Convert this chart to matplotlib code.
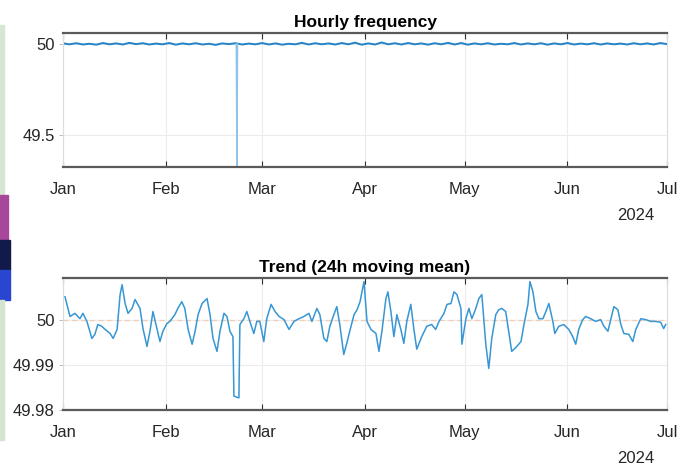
"""Hourly grid frequency and its 24h moving mean, Jan-Jul 2024 (MATLAB-style two-panel chart)."""

import matplotlib

matplotlib.use("Agg")

import matplotlib.dates as mdates
import matplotlib.pyplot as plt
import numpy as np
import pandas as pd
from matplotlib.patches import Rectangle

START = pd.Timestamp("2024-01-01")
END = pd.Timestamp("2024-07-01")

# hourly frequency, every 2 days (mHz deviation from 50 Hz)
hourly_dev_mhz = [
    3, -2, 4, -3, 1, -4, 5, -2, 3, -3, 6, -1, 4, -3, 2, -2, 5, -4, 3, -2,
    4, -3, 1, -5, 3, -1, 4, -3, 2, -2, 5, -3, 3, -4, 1, -2, 6, -3, 4, -2,
    3, -3, 5, -2, 7, -4, 3, -3, 8, -2, 4, -3, 5, -2, 3, -4, 4, -2, 6, -3,
    5, -4, 3, -2, 4, -3, 1, -2, 5, -3, 3, -2, 4, -4, 3, -2, 5, -3, 2, -2,
    4, -3, 3, -2, 2, -3, 4, -2, 3, -3, 5, -1,
]
hourly_step_days = 2

# single-hour dip in late February
dip_day = [52.2, 52.4, 52.6]
dip_hz = [50.0, 49.32, 50.0]

# 24h moving mean: day offset from Jan 1 and deviation in mHz
trend_day = [
    0.6, 1.5, 2.1, 3.6, 5.1, 6.0, 7.2, 8.7, 9.6, 10.5, 11.7, 12.7, 14.2, 15.1,
    16.3, 17.2, 17.8, 18.7, 19.6, 20.8, 21.7, 23.2, 24.1, 25.3, 26.2, 27.1,
    28.3, 29.2, 30.1, 31.3, 32.2, 33.7, 34.6, 35.8, 36.7, 37.7, 38.9, 39.8,
    40.7, 41.9, 43.4, 44.3, 45.2, 46.4, 47.3, 48.5, 49.4, 50.3, 51.2, 51.5,
    53.0, 53.3, 54.5, 55.4, 56.3, 57.5, 58.4, 59.3, 60.5, 61.4, 62.7, 63.9,
    65.1, 66.6, 68.1, 69.6, 71.1, 72.6, 74.1, 75.0, 76.5, 77.4, 78.6, 79.5,
    80.4, 81.6, 82.5, 83.4, 84.6, 85.5, 86.4, 87.7, 88.6, 89.5, 90.7, 91.6,
    92.8, 94.3, 95.2, 96.1, 97.3, 97.9, 98.8, 99.7, 100.6, 101.8, 102.7,
    103.6, 104.8, 105.7, 106.6, 108.1, 109.6, 111.1, 112.3, 113.3, 114.8,
    115.7, 116.9, 117.8, 118.7, 119.9, 120.2, 121.4, 122.3, 123.2, 124.4,
    125.3, 126.2, 127.4, 128.3, 129.2, 130.4, 131.3, 132.2, 133.4, 134.3,
    135.2, 136.5, 138.0, 138.9, 140.1, 140.7, 141.6, 142.5, 143.4, 144.6,
    145.5, 146.4, 147.6, 148.2, 149.4, 150.9, 152.4, 153.6, 154.5, 155.4,
    156.6, 157.5, 159.0, 160.5, 162.0, 163.0, 164.2, 165.1, 166.0, 167.2,
    168.1, 169.0, 170.5, 171.7, 172.6, 174.1, 175.6, 177.1, 178.6, 180.1,
    181.0, 181.6,
]
trend_dev_mhz = [
    5.3, 2.7, 0.9, 1.6, 0.4, 1.6, -0.2, -4.0, -3.1, -0.9, -1.3, -2.0, -2.9, -4.0,
    -2.0, 5.8, 8.0, 3.8, 1.6, 2.7, 4.7, 2.7, -1.8, -5.8, -2.4, 2.0,
    -1.8, -4.7, -2.4, -0.7, -0.2, 1.3, 2.7, 4.2, 2.7, -2.0, -5.3, -2.4,
    1.3, 3.8, 4.9, 1.3, -4.0, -6.9, -2.4, 1.6, 0.9, -2.4, -3.6, -16.9,
    -17.3, -0.9, 0.4, 2.0, -0.2, -2.9, -0.2, -0.2, -4.7, 0.4, 3.6, 2.0,
    0.9, 0.2, -2.0, -0.2, 0.4, 0.9, 1.6, -0.2, 2.7, 1.3, -4.0, -4.7,
    -1.3, 1.3, 3.1, -0.9, -7.6, -5.1, -2.4, 1.3, 2.4, 4.2, 8.7, -0.2,
    -2.0, -2.9, -6.9, -2.4, 4.9, 6.4, 2.0, -3.6, 1.3, -2.0, -5.1,
    -0.2, 3.6, -1.8, -6.4, -3.6, -1.3, -0.9, -2.0, -0.2, 1.6,
    3.6, 3.8, 6.4, 5.8, 2.7, -5.3, 0.4, 2.7, 0.4, 2.7,
    4.9, 5.8, -5.3, -10.7, -4.0, 1.3, 2.4, 2.7, 2.0, -2.4,
    -6.9, -6.0, -4.7, -0.9, 3.6, 8.7, 6.4, 2.0, 0.4, 0.4,
    2.0, 3.8, -0.2, -2.9, -1.3, -0.9, -2.0, -3.6, -5.3, -2.0,
    0.2, 0.9, 0.4, -0.2, 0.2, -1.3, -2.4, 0.4, 3.1, 2.4,
    -0.9, -2.9, -3.1, -4.7, -2.0, 0.4, 0.2, -0.2, -0.2, -0.4,
    -1.8, -0.9,
]

FONT = ["Liberation Sans", "DejaVu Sans"]
LINE_BLUE = "#2382c8"
TREND_BLUE = "#3796d4"
TEXT = "#262626"


def to_dates(days):
    return START + pd.to_timedelta(np.asarray(days, dtype=float), unit="D")


def style_axes(ax):
    ax.set_xlim(START, END)
    ax.xaxis.set_major_locator(mdates.MonthLocator())
    ax.xaxis.set_major_formatter(mdates.DateFormatter("%b"))
    ax.tick_params(axis="x", direction="in", length=4, width=0.8, color="#303030",
                   top=True, pad=11, labelsize=12, labelcolor=TEXT)
    ax.tick_params(axis="y", direction="out", length=3, width=0.6, color="#b0b0b0",
                   pad=3, labelsize=12, labelcolor=TEXT)
    for lab in ax.get_xticklabels() + ax.get_yticklabels():
        lab.set_family(FONT)
    ax.grid(True, color="#ececec", linewidth=0.8)
    ax.set_axisbelow(True)
    for side in ("top", "bottom"):
        ax.spines[side].set_color("#5a5a5a")
        ax.spines[side].set_linewidth(1.6)
    for side in ("left", "right"):
        ax.spines[side].set_color("#dcdcdc")
        ax.spines[side].set_linewidth(0.8)
    ax.annotate("2024", xy=(0.949, 0), xycoords="axes fraction", xytext=(0, -35),
                textcoords="offset points", ha="center", va="center",
                fontsize=12, color=TEXT, family=FONT)


def draw_side_strip(fig):
    # sliver of a neighbouring image along the left edge of the screenshot
    h = fig.bbox.height
    strips = [
        (25, 195, 4, "#d7e6d2"),
        (195, 240, 8, "#a8479a"),
        (240, 270, 10, "#121a4a"),
        (270, 300, 10, "#2a45d0"),
        (300, 440, 4, "#d3e4cf"),
    ]
    for top, bottom, width, color in strips:
        fig.patches.append(Rectangle((0, (h - bottom) / h), width / fig.bbox.width,
                                     (bottom - top) / h, transform=fig.transFigure,
                                     color=color, zorder=0))


def main():
    fig = plt.figure(figsize=(6.82, 4.71), dpi=100)
    ax1 = fig.add_axes([0.0924, 0.6454, 0.8856, 0.2845])
    ax2 = fig.add_axes([0.0924, 0.1295, 0.8856, 0.2803])

    band_days = np.arange(len(hourly_dev_mhz)) * hourly_step_days
    band_hz = 50 + np.asarray(hourly_dev_mhz) / 1000.0
    ax1.plot(to_dates(band_days), band_hz, color=LINE_BLUE, linewidth=1.4)
    ax1.plot(to_dates(dip_day), dip_hz, color="#8fc3e8", linewidth=1.0)
    ax1.set_ylim(49.324, 50.06)
    ax1.set_yticks([49.5, 50])
    ax1.set_yticklabels(["49.5", "50"])
    ax1.set_title("Hourly frequency", fontsize=12.5, fontweight="bold", family=FONT, pad=4)
    style_axes(ax1)

    trend_hz = 50 + np.asarray(trend_dev_mhz) / 1000.0
    ax2.axhline(50, color="#f0cdb4", linewidth=0.9, linestyle=(0, (4, 3)), zorder=1)
    ax2.plot(to_dates(trend_day), trend_hz, color=TREND_BLUE, linewidth=1.1, zorder=2)
    ax2.set_ylim(49.98, 50.0095)
    ax2.set_yticks([49.98, 49.99, 50])
    ax2.set_yticklabels(["49.98", "49.99", "50"])
    ax2.set_title("Trend (24h moving mean)", fontsize=12.5, fontweight="bold", family=FONT, pad=4)
    style_axes(ax2)

    draw_side_strip(fig)
    fig.savefig("out.png", dpi=100)
    plt.close(fig)


if __name__ == "__main__":
    main()
